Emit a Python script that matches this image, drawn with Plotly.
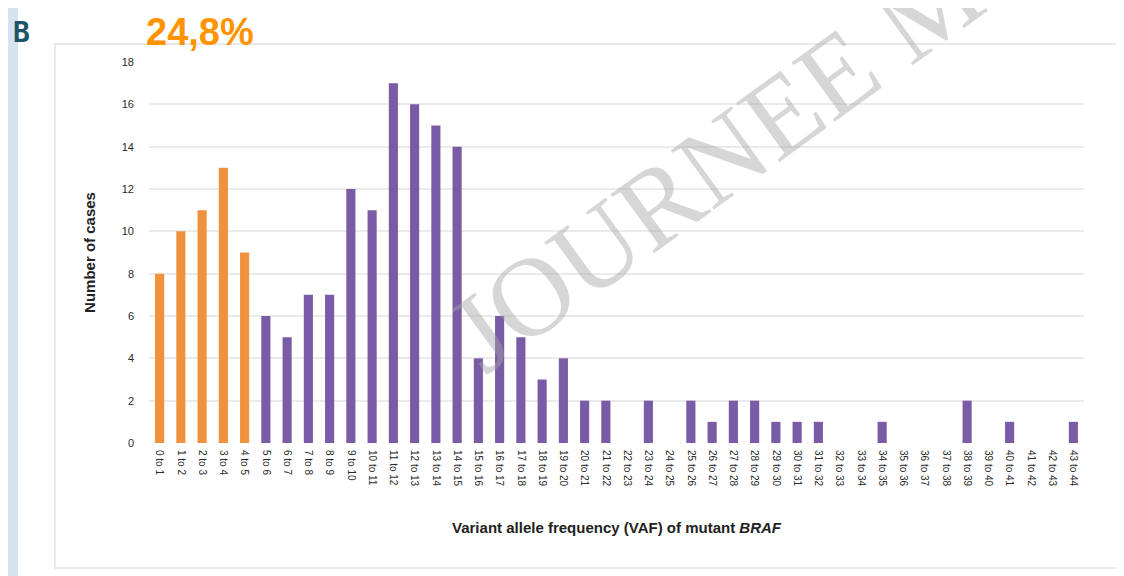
import plotly.graph_objects as go

categories = ["0 to 1", "1 to 2", "2 to 3", "3 to 4", "4 to 5", "5 to 6", "6 to 7", "7 to 8",
              "8 to 9", "9 to 10", "10 to 11", "11 to 12", "12 to 13", "13 to 14", "14 to 15",
              "15 to 16", "16 to 17", "17 to 18", "18 to 19", "19 to 20", "20 to 21", "21 to 22",
              "22 to 23", "23 to 24", "24 to 25", "25 to 26", "26 to 27", "27 to 28", "28 to 29",
              "29 to 30", "30 to 31", "31 to 32", "32 to 33", "33 to 34", "34 to 35", "35 to 36",
              "36 to 37", "37 to 38", "38 to 39", "39 to 40", "40 to 41", "41 to 42", "42 to 43",
              "43 to 44"]
cases = [8, 10, 11, 13, 9, 6, 5, 7, 7, 12, 11, 17, 16, 15, 14, 4, 6, 5, 3, 4, 2, 2, 0, 2, 0,
         2, 1, 2, 2, 1, 1, 1, 0, 0, 1, 0, 0, 0, 2, 0, 1, 0, 0, 1]
low_vaf_count = 5  # first five bins highlighted in orange
y_ticks = [0, 2, 4, 6, 8, 10, 12, 14, 16, 18]

ORANGE = "#F0913C"
PURPLE = "#7A5BA6"
colors = [ORANGE if i < low_vaf_count else PURPLE for i in range(len(categories))]

fig = go.Figure(go.Bar(x=categories, y=cases, marker=dict(color=colors, line=dict(width=0)),
                       showlegend=False))

W, H = 1124, 576
OFF = 8  # page body margin
PX0, PX1, PY0, PY1 = 149, 1084, 62, 443  # plot area in reference pixels
L, R = PX0 - OFF, W - (PX1 - OFF)
T, B = PY0 - OFF, H - (PY1 - OFF)
pw, ph = PX1 - PX0, PY1 - PY0

def px(xp):
    return (xp - PX0) / pw

def py(yp):
    return (PY1 - yp) / ph

fig.update_layout(
    width=W, height=H,
    margin=dict(l=L, r=R, t=T, b=B),
    paper_bgcolor="white", plot_bgcolor="white",
    bargap=0.57,
    font=dict(family="Liberation Sans, Arial, sans-serif", color="#333333"),
    xaxis=dict(
        tickangle=90, tickfont=dict(size=10, color="#2a2a2a"),
        showgrid=False, showline=False, ticks="", ticklabelstandoff=6,
        title=dict(text="<b>Variant allele frequency (VAF) of mutant <i>BRAF</i></b>",
                   font=dict(size=15, color="#222222"), standoff=36),
        automargin=False,
    ),
    yaxis=dict(
        range=[0, 18], tickvals=y_ticks,
        tickfont=dict(size=11, color="#2a2a2a"),
        showgrid=True, gridcolor="#ebebeb", gridwidth=1.5,
        zeroline=False, showline=False, ticks="", ticklabelstandoff=14,
        title=dict(text="<b>Number of cases</b>", font=dict(size=15, color="#222222"), standoff=22),
        automargin=False,
    ),
    shapes=[
        dict(type="rect", xref="paper", yref="paper", x0=px(0), x1=px(18), y0=py(590), y1=py(0),
             fillcolor="#d5e3f1", line=dict(width=0), layer="below"),
        dict(type="rect", xref="paper", yref="paper", x0=px(55), x1=px(1118), y0=py(568), y1=py(44),
             fillcolor="rgba(0,0,0,0)", line=dict(color="#e4e4e4", width=1.5), layer="below"),
    ],
    annotations=[
        dict(text="<b>B</b>", xref="paper", yref="paper", x=px(21), y=py(33),
             xanchor="center", yanchor="middle",
             showarrow=False, font=dict(family="DejaVu Sans Mono, monospace", size=28, color="#1d5466")),
        dict(text="<b>24,8%</b>", xref="paper", yref="paper", x=px(200), y=py(32),
             xanchor="center", yanchor="middle",
             showarrow=False, font=dict(family="Liberation Sans, Arial", size=38, color="#FF9400")),
        dict(text="JOURNEE MA", xref="paper", yref="paper", x=px(748), y=py(138),
             xanchor="center", yanchor="middle",
             showarrow=False, textangle=-36,
             font=dict(family="Liberation Serif, Times New Roman, serif", size=112,
                       color="rgba(165,165,165,0.45)")),
    ],
)

fig.write_html("out.html")
